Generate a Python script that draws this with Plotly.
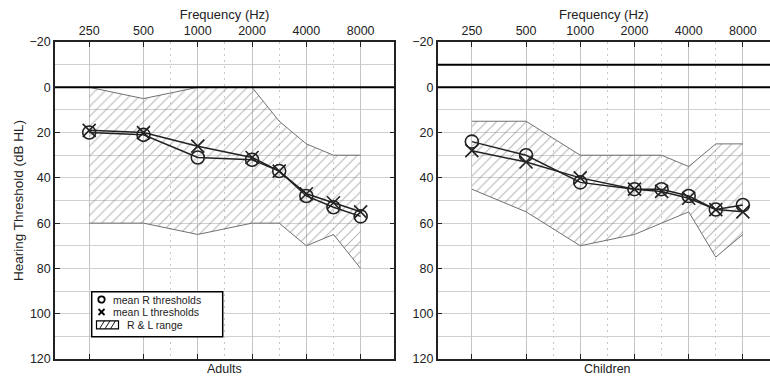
import numpy as np
import plotly.graph_objects as go

# ---------------- data ----------------
freqs = [250, 500, 1000, 2000, 3000, 4000, 6000, 8000]
octave_freqs = [250, 500, 1000, 2000, 4000, 8000]
half_octave_freqs = [750, 1500, 3000, 6000]
freq_labels = ["250", "500", "1000", "2000", "4000", "8000"]

adults_R = [20, 21, 31, 32, 37, 48, 53, 57]
adults_L = [19, 20, 26, 31, 37, 47, 51, 55]
adults_range_min = [0, 5, 0, 0, 15, 25, 30, 30]
adults_range_max = [60, 60, 65, 60, 60, 70, 65, 80]

children_R = [24, 30, 42, 45, 45, 48, 54, 52]
children_L = [28, 33, 40, 45, 46, 49, 54, 55]
children_range_min = [15, 15, 30, 30, 30, 35, 25, 25]
children_range_max = [45, 55, 70, 65, 60, 55, 75, 65]

adults_ref_levels = [0]
children_ref_levels = [-10, 0]

db_ticks = list(range(-20, 121, 20))
db_minor = list(range(-10, 111, 20))

legend_labels = ["mean R thresholds", "mean L thresholds", "R & L range"]


def audiogram_pos(f):
    # audiogram convention: inter-octave frequencies sit half way between octaves
    return np.round(np.log2(np.asarray(f, dtype=float) / 250.0) * 2) / 2


x_data = audiogram_pos(freqs)
x_oct = audiogram_pos(octave_freqs)
x_half = audiogram_pos(half_octave_freqs)

FONT = "Liberation Sans, Arial, sans-serif"
DARK = "#222222"

W, H = 770, 380
top, bottom = 42, 359
left1, right1 = 55, 394.3
left2 = 437.7


def px(x):
    return x / W


def py(y):
    return (bottom - y) / (bottom - top)


fig = go.Figure()


def add_panel(xa, ya, R, L, rmin, rmax):
    fig.add_trace(go.Scatter(
        x=x_data, y=rmin, xaxis=xa, yaxis=ya, mode="lines",
        line=dict(color="#707070", width=1), name="R & L range",
        hoverinfo="skip"))
    fig.add_trace(go.Scatter(
        x=x_data, y=rmax, xaxis=xa, yaxis=ya, mode="lines",
        line=dict(color="#707070", width=1), fill="tonexty",
        fillcolor="rgba(255,255,255,0)",
        fillpattern=dict(shape="/", fgcolor="#6e6e6e", bgcolor="rgba(255,255,255,0)",
                         size=7, solidity=0.15),
        name="R & L range"))
    fig.add_trace(go.Scatter(
        x=x_data, y=L, xaxis=xa, yaxis=ya, mode="lines+markers",
        line=dict(color=DARK, width=1.5),
        marker=dict(symbol="x-thin-open", size=13, color=DARK,
                    line=dict(color=DARK, width=1.6)),
        name="mean L thresholds"))
    fig.add_trace(go.Scatter(
        x=x_data, y=R, xaxis=xa, yaxis=ya, mode="lines+markers",
        line=dict(color=DARK, width=1.5),
        marker=dict(symbol="circle-open", size=13, color=DARK,
                    line=dict(color=DARK, width=1.6)),
        name="mean R thresholds"))


add_panel("x", "y", adults_R, adults_L, adults_range_min, adults_range_max)
add_panel("x2", "y2", children_R, children_L, children_range_min, children_range_max)

shapes = []
for lvl in adults_ref_levels:
    shapes.append(dict(type="line", xref="x domain", yref="y", x0=0, x1=1, y0=lvl, y1=lvl,
                       line=dict(color="black", width=2), layer="above"))
for lvl in children_ref_levels:
    shapes.append(dict(type="line", xref="x2 domain", yref="y2", x0=0, x1=1, y0=lvl, y1=lvl,
                       line=dict(color="black", width=2), layer="above"))

# ---------- legend (drawn as key box with real text) ----------
lg_x0, lg_y0, lg_x1, lg_y1 = 91.7, 291.7, 222.7, 336.7
row_y = [299.5, 312.0, 324.8]
sym_x = 101.5
shapes.append(dict(type="rect", xref="paper", yref="paper",
                   x0=px(lg_x0), x1=px(lg_x1), y0=py(lg_y0), y1=py(lg_y1),
                   line=dict(color="black", width=1.5), fillcolor="white", layer="above"))
r = 3.2
shapes.append(dict(type="circle", xref="paper", yref="paper",
                   x0=px(sym_x - r), x1=px(sym_x + r), y0=py(row_y[0] - r), y1=py(row_y[0] + r),
                   line=dict(color="black", width=1.8), layer="above"))
d = 3.0
for sgn in (1, -1):
    shapes.append(dict(type="line", xref="paper", yref="paper",
                       x0=px(sym_x - d), x1=px(sym_x + d),
                       y0=py(row_y[1] - sgn * d), y1=py(row_y[1] + sgn * d),
                       line=dict(color="black", width=1.8), layer="above"))
hx0, hx1, hy0, hy1 = 96.5, 118.5, row_y[2] - 4, row_y[2] + 4
shapes.append(dict(type="rect", xref="paper", yref="paper",
                   x0=px(hx0), x1=px(hx1), y0=py(hy0), y1=py(hy1),
                   line=dict(color="black", width=1.2), layer="above"))
for hx in (99.5, 105.0, 110.5):
    shapes.append(dict(type="line", xref="paper", yref="paper",
                       x0=px(hx), x1=px(hx + 5), y0=py(hy1), y1=py(hy0),
                       line=dict(color="black", width=0.9), layer="above"))

annotations = [
    dict(text="Adults", xref="x", yref="paper", x=2.5, y=0, yanchor="top",
         showarrow=False, yshift=-1, font=dict(family=FONT, size=12.5, color=DARK)),
    dict(text="Children", xref="x2", yref="paper", x=2.5, y=0, yanchor="top",
         showarrow=False, yshift=-1, font=dict(family=FONT, size=12.5, color=DARK)),
]
text_x = [111.0, 111.0, 124.5]
for lab, yy, tx in zip(legend_labels, row_y, text_x):
    annotations.append(dict(text=lab, xref="paper", yref="paper", x=px(tx), y=py(yy),
                            xanchor="left", yanchor="middle", showarrow=False,
                            font=dict(family=FONT, size=10.5, color=DARK)))


def xaxis_cfg(domain, rng):
    return dict(
        domain=domain, range=rng, side="top",
        tickvals=x_oct, ticktext=freq_labels,
        ticks="inside", ticklen=5, tickwidth=1.3, tickcolor=DARK,
        showline=True, linewidth=1.5, linecolor=DARK, mirror="ticks",
        showgrid=True, gridcolor="#c4c4c4", gridwidth=1, zeroline=False,
        minor=dict(tickvals=x_half, showgrid=True, griddash="2px,4px",
                   gridcolor="#c8c8c8", gridwidth=1, ticks=""),
        tickfont=dict(family=FONT, size=12.5, color=DARK),
        title=dict(text="Frequency (Hz)", font=dict(family=FONT, size=13, color=DARK),
                   standoff=2),
    )


def yaxis_cfg(anchor, mirror, title=None):
    dd = dict(
        anchor=anchor, range=[120, -20], tickvals=db_ticks,
        ticks="inside", ticklen=5, tickwidth=1.3, tickcolor=DARK,
        showline=True, linewidth=1.5, linecolor=DARK, mirror=mirror,
        showgrid=True, gridcolor="#d0d0d0", gridwidth=1, zeroline=False,
        minor=dict(tickvals=db_minor, showgrid=True, gridcolor="#d0d0d0",
                   gridwidth=1, ticks=""),
        tickfont=dict(family=FONT, size=12.5, color=DARK),
    )
    if title:
        dd["title"] = dict(text=title, font=dict(family=FONT, size=13.5, color=DARK),
                           standoff=3)
    return dd


fig.update_layout(
    width=W, height=H,
    margin=dict(l=0, r=0, t=top, b=H - bottom, pad=0),
    paper_bgcolor="white", plot_bgcolor="white",
    xaxis=xaxis_cfg([left1 / W, right1 / W], [-0.63, 5.62]),
    xaxis2=xaxis_cfg([left2 / W, 1.0], [-0.63, 5.50]),
    yaxis=yaxis_cfg("x", "ticks", "Hearing Threshold (dB HL)"),
    yaxis2=yaxis_cfg("x2", False),
    shapes=shapes,
    showlegend=False,
    annotations=annotations,
)

fig.write_html("out.html")
